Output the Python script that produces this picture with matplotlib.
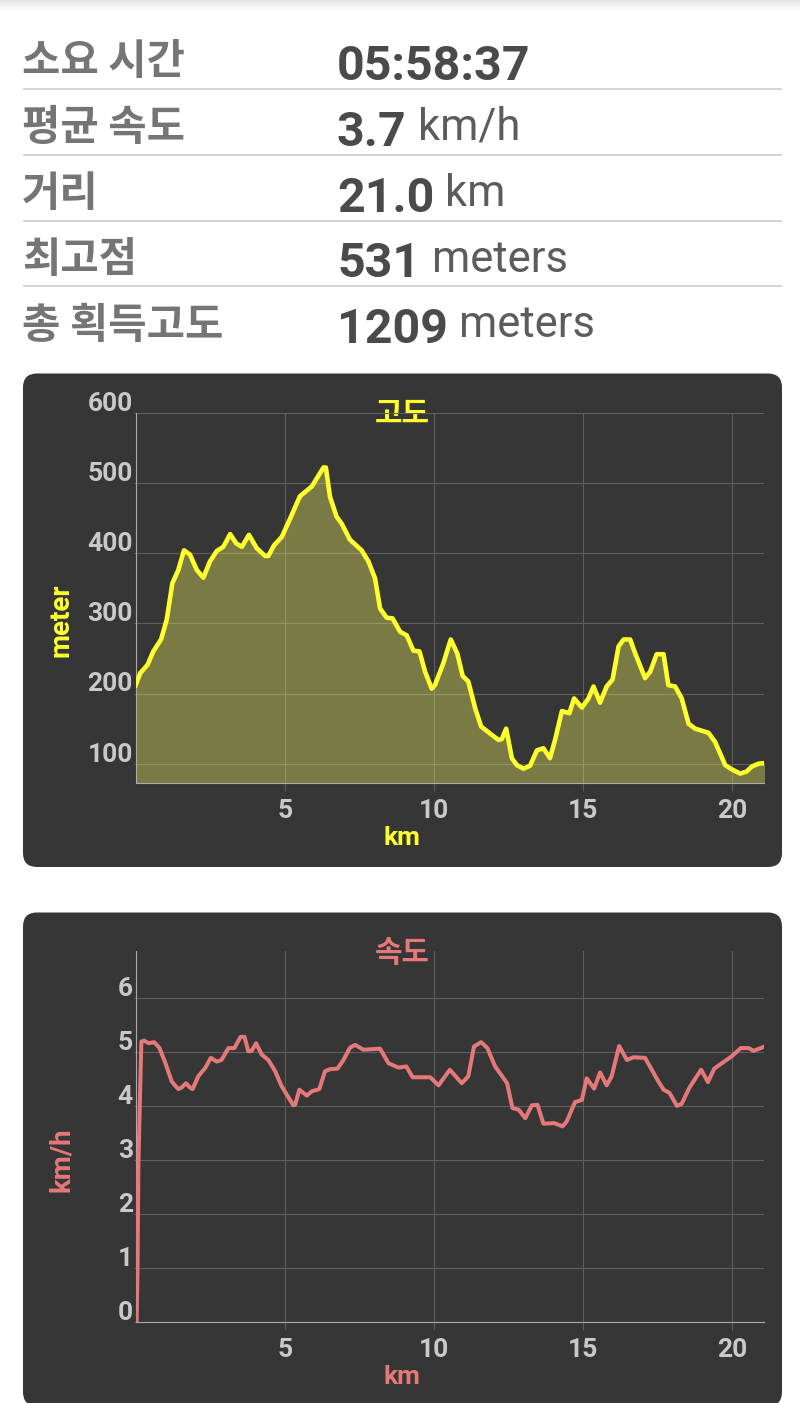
import numpy as np
import matplotlib
matplotlib.use("Agg")
import matplotlib.pyplot as plt
from matplotlib.patches import FancyBboxPatch
from matplotlib.transforms import ScaledTranslation

# =============================
# DATA
# =============================
stat_labels = ["소요 시간", "평균 속도", "거리", "최고점", "총 획득고도"]
stat_values = ["05:58:37", "3.7", "21.0", "531", "1209"]
stat_units = ["", "km/h", "km", "meters", "meters"]

elev_km = [0, .15, .40, .59, .85, 1.04, 1.23, 1.43, 1.62, 1.82, 2.05, 2.27, 2.49, 2.72, 2.94, 3.17, 3.37, 3.56,
           3.80, 4.06, 4.34, 4.45, 4.64, 4.90, 5.18, 5.51, 5.91, 6.30, 6.38, 6.52, 6.74, 6.91, 7.19, 7.58, 7.81,
           8.03, 8.20, 8.42, 8.62, 8.87, 9.09, 9.32, 9.52, 9.71, 9.93, 10.04, 10.32, 10.57, 10.79, 10.97, 11.16,
           11.39, 11.59, 11.89, 12.17, 12.28, 12.43, 12.62, 12.79, 13.01, 13.23, 13.46, 13.68, 13.90, 14.07,
           14.30, 14.55, 14.71, 14.97, 15.19, 15.36, 15.58, 15.80, 16.00, 16.20, 16.37, 16.59, 16.76, 17.09,
           17.26, 17.48, 17.71, 17.87, 18.10, 18.32, 18.55, 18.77, 19.22, 19.44, 19.78, 20.00, 20.28, 20.50,
           20.67, 20.89, 21.10]
elev_m = [212, 229, 241, 260, 277, 305, 357, 376, 404, 398, 376, 365, 388, 403, 409, 427, 414, 409,
          426, 407, 396, 396, 411, 423, 449, 481, 495, 522, 522, 480, 452, 442, 419, 404, 388,
          364, 321, 308, 307, 288, 283, 261, 260, 231, 207, 212, 243, 277, 257, 225, 217,
          179, 153, 143, 134, 135, 150, 108, 98, 93, 97, 119, 122, 108, 134,
          175, 172, 193, 180, 193, 210, 187, 210, 220, 267, 277, 277, 257, 222,
          231, 256, 256, 212, 210, 193, 157, 150, 144, 131, 98, 92, 86, 89,
          96, 100, 101]

speed_km = [.03, .06, .09, .15, .19, .28, .43, .62, .79, .98, 1.21, 1.43, 1.54, 1.69, 1.82, 1.91, 2.10, 2.33, 2.52,
            2.72, 2.88, 3.11, 3.31, 3.52, 3.65, 3.78, 3.89, 4.04, 4.23, 4.45, 4.68, 4.90, 5.29, 5.35, 5.49, 5.74,
            5.91, 6.16, 6.35, 6.52, 6.77, 6.97, 7.19, 7.36, 7.64, 8.20, 8.48, 8.81, 9.08, 9.29, 9.88, 10.16,
            10.54, 10.94, 11.16, 11.35, 11.59, 11.80, 12.06, 12.46, 12.64, 12.85, 13.07, 13.29, 13.48, 13.68,
            14.04, 14.32, 14.46, 14.74, 14.97, 15.13, 15.38, 15.58, 15.80, 15.97, 16.22, 16.48, 16.70, 17.09,
            17.54, 17.71, 17.91, 18.16, 18.32, 18.58, 18.97, 19.20, 19.41, 20.00, 20.30, 20.56, 20.73, 21.10]
speed_kmh = [0, .93, 2.9, 4.33, 5.19, 5.21, 5.16, 5.18, 5.08, 4.82, 4.45, 4.31, 4.34, 4.42, 4.34, 4.31, 4.55, 4.70, 4.89,
             4.82, 4.85, 5.07, 5.07, 5.28, 5.28, 5.01, 5.02, 5.16, 4.95, 4.85, 4.64, 4.36, 4.01, 4.02, 4.30, 4.19,
             4.27, 4.31, 4.64, 4.68, 4.69, 4.85, 5.08, 5.13, 5.04, 5.06, 4.79, 4.71, 4.73, 4.53, 4.53, 4.38,
             4.67, 4.42, 4.55, 5.10, 5.18, 5.07, 4.73, 4.42, 3.96, 3.93, 3.77, 4.01, 4.02, 3.67,
             3.68, 3.62, 3.71, 4.07, 4.11, 4.51, 4.32, 4.62, 4.38, 4.55, 5.11, 4.85, 4.90, 4.89,
             4.45, 4.30, 4.24, 4.00, 4.04, 4.34, 4.67, 4.44, 4.69, 4.92, 5.07, 5.07, 5.02, 5.10]

x_ticks = [5, 10, 15, 20]
elev_ticks = [100, 200, 300, 400, 500, 600]
speed_ticks = [0, 1, 2, 3, 4, 5, 6]

# =============================
# STYLE
# =============================
W, H = 800, 1403
KR = ["Noto Sans CJK KR", "DejaVu Sans"]
PANEL = "#363636"
GRID = "#5e5e5e"
AXIS = "#ababab"
TICK_TEXT = "#c9c9c9"
YELLOW = "#ffff2e"
PINK = "#e57878"

plt.rcParams["font.family"] = ["Roboto", "Noto Sans CJK KR", "DejaVu Sans"]

fig = plt.figure(figsize=(W / 100, H / 100), dpi=100, facecolor="white")

# page layer in pixel coordinates
page = fig.add_axes([0, 0, 1, 1])
page.set_xlim(0, W)
page.set_ylim(H, 0)
page.axis("off")

# soft shadow of the app bar
page.imshow(np.linspace(0.9, 1, 12)[:, None], extent=(0, W, 12, 0), cmap="gray",
            vmin=0, vmax=1, aspect="auto", zorder=1)
page.set_xlim(0, W)
page.set_ylim(H, 0)

label_base = [74, 140, 206, 272, 338]
value_base = [80, 146, 212, 277, 343]
unit_base = [80, 140, 206, 272, 337]
unit_x = [0, 418, 445, 432, 459]
for i in range(5):
    page.text(22, label_base[i], stat_labels[i], family=KR, weight="bold", fontsize=30,
              color="#757575", va="baseline")
    page.text(337, value_base[i], stat_values[i], weight="bold", fontsize=34.8,
              color="#4a4a4a", va="baseline")
    if stat_units[i]:
        page.text(unit_x[i], unit_base[i], stat_units[i], fontsize=31.4,
                  color="#5c5c5c", va="baseline")
for y in [88.5, 154.5, 220.5, 286]:
    page.plot([23, 782], [y, y], color="#d4d4d4", lw=1.4, solid_capstyle="butt")


def panel(top, bottom):
    page.add_patch(FancyBboxPatch((23 + 14, top + 14), 759 - 28, bottom - top - 28,
                                  boxstyle="round,pad=14,rounding_size=14",
                                  fc=PANEL, ec="none", zorder=2))


def chart(top, bottom, ylim, yticks, color, title, title_y, ylabel, ylabel_y, km_y):
    left, right = 135.7, 764.3
    ax = fig.add_axes([left / W, 1 - bottom / H, (right - left) / W, (bottom - top) / H])
    ax.patch.set_alpha(0)
    ax.set_xlim(0, 21.09)
    ax.set_ylim(*ylim)
    ax.set_xticks(x_ticks)
    ax.set_yticks(yticks)
    ax.grid(True, color=GRID, lw=0.8)
    ax.set_axisbelow(True)
    for side in ["top", "right"]:
        ax.spines[side].set_visible(False)
    for side in ["left", "bottom"]:
        ax.spines[side].set_color(AXIS)
        ax.spines[side].set_linewidth(0.8)
    ax.tick_params(axis="x", length=5.8, width=0.8, color=GRID, pad=6, labelsize=19, labelcolor=TICK_TEXT)
    ax.tick_params(axis="y", length=1.5, width=0.8, color=GRID, pad=0.5, labelsize=19, labelcolor=TICK_TEXT)
    for lab in ax.get_xticklabels():
        lab.set_fontweight("bold")
    shift = ScaledTranslation(0, 1.5 / 72, fig.dpi_scale_trans)
    for lab in ax.get_yticklabels():
        lab.set_fontweight("bold")
        lab.set_verticalalignment("baseline")
        lab.set_transform(lab.get_transform() + shift)
    page.text(402, title_y, title, family=KR, weight="bold", fontsize=21.5, color=color,
              ha="center", va="center", zorder=3)
    page.text(402, km_y, "km", weight="bold", fontsize=19, color=color,
              ha="center", va="center", zorder=3)
    page.text(61, ylabel_y, ylabel, weight="bold", fontsize=20, color=color, rotation=90,
              ha="center", va="center", zorder=3)
    return ax


# =============================
# ELEVATION
# =============================
panel(373.5, 867)
ax1 = chart(412.7, 782.7, (73, 600), elev_ticks, YELLOW, "고도", 414, "meter", 620, 838)
ax1.fill_between(elev_km, elev_m, 73, color="#ffff62", alpha=0.34, lw=0)
ax1.plot(elev_km, elev_m, color=YELLOW, lw=3.3, solid_joinstyle="round", zorder=3)

# =============================
# SPEED
# =============================
panel(912.5, 1406)
ax2 = chart(951, 1321.7, (0, 6.87), speed_ticks, PINK, "속도", 953, "km/h", 1160, 1377)
ax2.plot(speed_km, speed_kmh, color=PINK, lw=2.9, solid_joinstyle="round", zorder=3)

fig.savefig("out.png", dpi=100)
plt.close()
